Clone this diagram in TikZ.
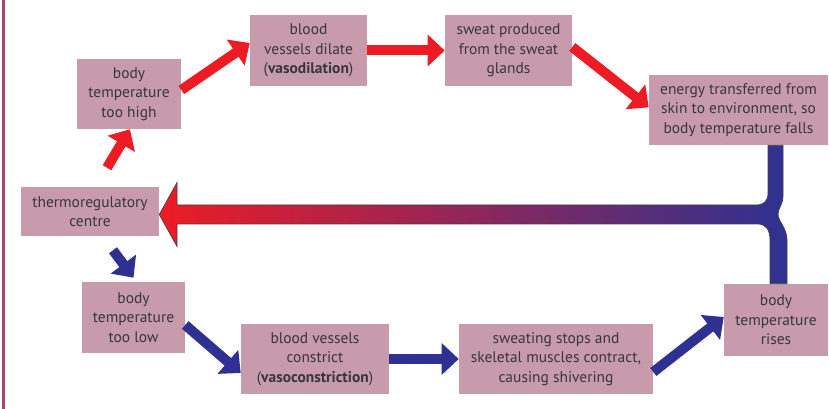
\documentclass[tikz,border=0pt]{standalone}
\usepackage{fontspec}
\setmainfont{PT Sans}
\usepackage{xcolor}
\usepackage{tikz}
\usetikzlibrary{arrows.meta, positioning, calc}

\definecolor{boxfill}{RGB}{200,155,172}
\definecolor{boxtext}{RGB}{55,55,55}
\definecolor{hotred}{RGB}{237,28,36}
\definecolor{coldblue}{RGB}{46,49,146}
\definecolor{framecol}{RGB}{163,66,127}

\begin{document}
\begin{tikzpicture}[
      x=0.75pt, y=-0.75pt,
      stage/.style={rectangle, fill=boxfill, text=boxtext, align=center, inner sep=0pt,
                    font=\fontsize{11.6pt}{14.5pt}\selectfont},
      hot/.style  ={draw=hotred,   line width=7.5pt, -{Triangle[length=12.75pt, width=23pt]}},
      cold/.style ={draw=coldblue, line width=7.5pt, -{Triangle[length=12.75pt, width=23pt]}}
    ]
    \useasboundingbox (0,0) rectangle (829,409);

    % left frame line
    \draw[framecol, line width=1.6pt] (3.5,0) -- (3.5,409);

    % control centre
    \node[stage, minimum width=103.5pt, minimum height=36.75pt] (TC) at (90,211.5)
         {thermoregulatory\\centre};

    % too hot branch
    \node[stage, minimum width=78pt,    minimum height=52.5pt]  (HI) at (129,94)
         {body\\temperature\\too high};
    \node[stage, minimum width=87.75pt, minimum height=53.25pt] (VD) at (308.5,50.5)
         {blood\\vessels dilate\\(\textbf{vasodilation})};
    \node[stage, minimum width=95.25pt, minimum height=53.25pt] (SW) at (508.5,50.5)
         {sweat produced\\from the sweat\\glands};
    \node[stage, minimum width=134.25pt, minimum height=52.5pt] (EN) at (738.5,110)
         {energy transferred from\\skin to environment, so\\body temperature falls};

    % too cold branch
    \node[stage, minimum width=77.25pt, minimum height=53.25pt] (LO) at (133.5,317.5)
         {body\\temperature\\too low};
    \node[stage, minimum width=111pt,   minimum height=52.5pt]  (VC) at (315,359)
         {blood vessels\\constrict\\(\textbf{vasoconstriction})};
    \node[stage, minimum width=145.5pt, minimum height=52.5pt]  (SH) at (556,359)
         {sweating stops and\\skeletal muscles contract,\\causing shivering};
    \node[stage, minimum width=78pt,    minimum height=54pt]    (RI) at (776,320)
         {body\\temperature\\rises};

    % red arrows
    \draw[hot] ([xshift=12.75pt, yshift=14.25pt]TC.north) -- ([xshift=0.75pt]HI.south);
    \draw[hot] ([yshift=3pt]HI.east) -- ([yshift=5.6pt]VD.west);
    \draw[hot] (VD.east) -- (SW.west);
    \draw[hot] ([yshift=2.6pt]SW.east) -- ([yshift=2pt]EN.west);

    % blue arrows
    \draw[cold] ([xshift=17.25pt, yshift=-10.5pt]TC.south) -- ([yshift=3pt]LO.north);
    \draw[cold] ([yshift=-5.6pt]LO.east) -- ([yshift=-10.5pt]VC.west);
    \draw[cold] (VC.east) -- (SH.west);
    \draw[cold] ([yshift=-9.75pt]SH.east) -- ([yshift=2.25pt]RI.west);

    % feedback arrow back to the centre
    \coordinate (FB) at ([yshift=-2.25pt]TC.east);
    \shadedraw[left color=hotred, middle color=coldblue!62!hotred, right color=coldblue,
               draw=black!75, line width=0.5pt]
      (FB) -- (177,182.5) -- (177,205) -- (756,205)
      .. controls (764,205) and (768,201) .. (768,193)
      -- (EN.south -| 768,0) -- (EN.south -| 783,0) -- (783,196)
      .. controls (783,205) and (778,208) .. (778,214.5)
      .. controls (778,221) and (787,228) .. (787,240)
      -- (RI.north -| 787,0) -- (RI.north -| 770,0) -- (770,240)
      .. controls (770,230) and (766,224) .. (758,224)
      -- (177,224) -- (177,246.5) -- cycle;
\end{tikzpicture}
\end{document}
